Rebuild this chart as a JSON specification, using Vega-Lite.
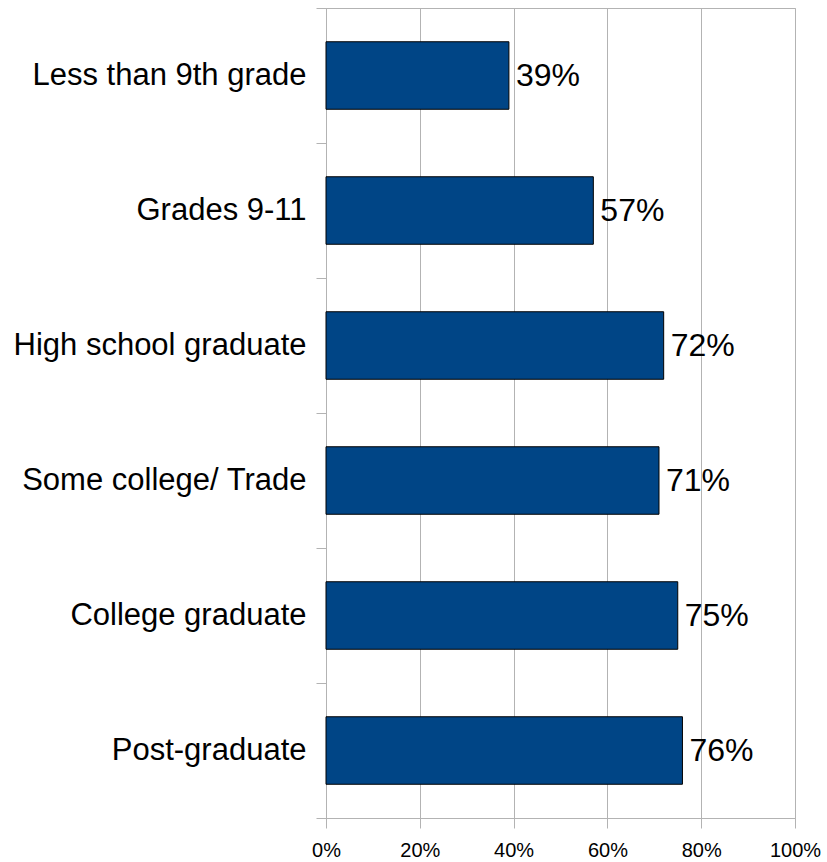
{
  "$schema": "https://vega.github.io/schema/vega-lite/v6.json",
  "width": 469,
  "height": 810,
  "autosize": {"type": "none"},
  "padding": {"left": 326, "top": 8, "right": 32, "bottom": 44},
  "background": "white",
  "config": {
    "font": "Liberation Sans",
    "view": {"stroke": "#b3b3b3", "strokeWidth": 1}
  },
  "data": {
    "values": [
      {"category": "Less than 9th grade", "value": 0.39},
      {"category": "Grades 9-11", "value": 0.57},
      {"category": "High school graduate", "value": 0.72},
      {"category": "Some college/ Trade", "value": 0.71},
      {"category": "College graduate", "value": 0.75},
      {"category": "Post-graduate", "value": 0.76}
    ]
  },
  "encoding": {
    "y": {
      "field": "category",
      "type": "nominal",
      "sort": null,
      "scale": {"paddingInner": 0, "paddingOuter": 0},
      "axis": {
        "title": null,
        "tickBand": "extent",
        "tickSize": 10,
        "tickColor": "#b3b3b3",
        "domainColor": "#b3b3b3",
        "labelFont": "Liberation Sans",
        "labelFontSize": 31,
        "labelColor": "#000000",
        "labelPadding": 10,
        "labelLimit": 400
      }
    },
    "x": {
      "field": "value",
      "type": "quantitative",
      "scale": {"domain": [0, 1], "nice": false},
      "axis": {
        "title": null,
        "format": ".0%",
        "values": [0, 0.2, 0.4, 0.6, 0.8, 1],
        "grid": true,
        "gridColor": "#b3b3b3",
        "tickSize": 10,
        "tickColor": "#b3b3b3",
        "domainColor": "#b3b3b3",
        "labelFont": "Liberation Sans",
        "labelFontSize": 20,
        "labelColor": "#000000",
        "labelPadding": 12,
        "labelFlush": false
      }
    }
  },
  "layer": [
    {
      "mark": {"type": "bar", "color": "#004586", "stroke": "#000000", "strokeWidth": 1, "height": {"band": 0.5}}
    },
    {
      "mark": {"type": "text", "align": "left", "baseline": "middle", "dx": 7, "fontSize": 32, "font": "Liberation Sans", "color": "#000000"},
      "encoding": {
        "text": {"field": "value", "type": "quantitative", "format": ".0%"}
      }
    }
  ]
}
